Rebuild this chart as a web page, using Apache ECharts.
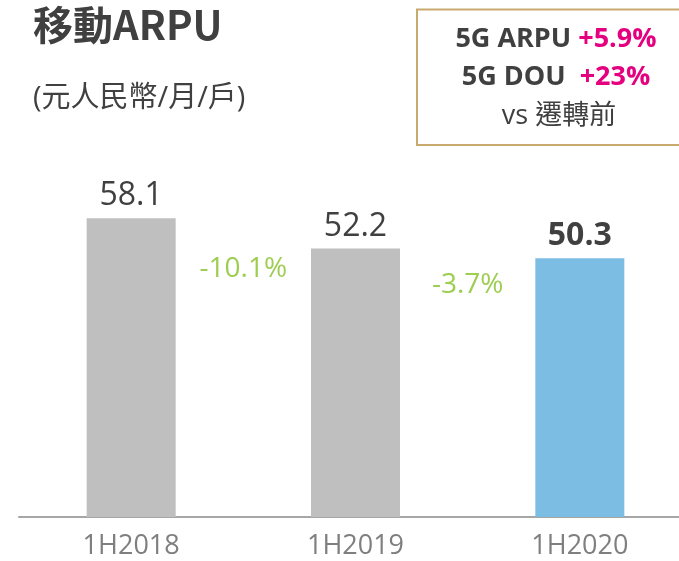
<!DOCTYPE html>
<html>
<head>
<meta charset="utf-8">
<script src="https://cdn.jsdelivr.net/npm/echarts@6/dist/echarts.min.js"></script>
<style>
html,body{margin:0;padding:0;background:#fff;overflow:hidden;width:679px;height:561px;}
#main{width:692px;height:561px;}
</style>
</head>
<body>
<div id="main"></div>
<script>
var categories = ['1H2018', '1H2019', '1H2020'];
var arpuValues = [58.1, 52.2, 50.3];
var changePositions = [0.5, 1.5];
var changeLevels = [48.2, 45.1];
var changeLabels = ['-10.1%', '-3.7%'];
var titleText = '移動ARPU';
var unitText = '(元人民幣/月/戶)';
var boxLines = [['5G ARPU', '+5.9%'], ['5G DOU ', '+23%'], ['vs 遷轉前', '']];

var FONT = '"Open Sans", "Noto Sans CJK TC", sans-serif';
var GRAY = '#bfbfbf', BLUE = '#7cbde3', DARK = '#404040', GREEN = '#84c126', PINK = '#e4007f';

var chart = echarts.init(document.getElementById('main'), null, {renderer: 'canvas'});

var barData = arpuValues.map(function (v, i) {
  var last = i === arpuValues.length - 1;
  return {
    value: v,
    itemStyle: {color: last ? BLUE : GRAY},
    label: {fontWeight: last ? 'bold' : 'normal'}
  };
});

var changeData = changePositions.map(function (x, i) {
  return {value: [x, changeLevels[i]], label: {formatter: changeLabels[i]}};
});

chart.setOption({
  animation: false,
  backgroundColor: '#fff',
  textStyle: {fontFamily: FONT},
  grid: {left: 19, right: 0, top: 157, bottom: 44, containLabel: false},
  xAxis: [{
    type: 'category',
    data: categories,
    axisLine: {lineStyle: {color: '#a6a6a6', width: 2}},
    axisTick: {show: false},
    axisLabel: {color: '#7f7f7f', fontSize: 27, margin: 16, fontFamily: FONT}
  }, {
    type: 'value',
    min: -0.5, max: 2.5,
    show: false
  }],
  yAxis: {
    type: 'value', min: 0, max: 70, show: false
  },
  series: [{
    type: 'bar',
    xAxisIndex: 0,
    data: barData,
    barWidth: 89,
    label: {
      show: true, position: 'top', distance: 6,
      color: DARK, fontSize: 32, fontFamily: FONT,
      formatter: function (p) { return p.value.toFixed(1); }
    }
  }, {
    type: 'scatter',
    xAxisIndex: 1,
    data: changeData,
    symbolSize: 1,
    itemStyle: {color: 'rgba(0,0,0,0)'},
    label: {show: true, position: 'inside', color: GREEN, fontSize: 28, fontFamily: FONT}
  }],
  graphic: [
    {type: 'text', left: 33, top: 5, style: {text: titleText, font: 'bold 40px "Noto Sans CJK TC", sans-serif', fill: DARK}},
    {type: 'text', left: 33, top: 84, style: {text: unitText, font: '29px "Open Sans", "Noto Sans CJK TC", sans-serif', fill: DARK}},
    {type: 'rect', shape: {x: 417, y: 9.5, width: 278, height: 135.5}, style: {fill: 'none', stroke: '#c8a96e', lineWidth: 2}},
    {type: 'text', x: 556, y: 39, style: {
      text: '{k|' + boxLines[0][0] + ' }{p|' + boxLines[0][1] + '}',
      align: 'center', verticalAlign: 'middle',
      rich: {k: {font: 'bold 27px ' + FONT, fill: DARK}, p: {font: 'bold 27px ' + FONT, fill: PINK}}
    }},
    {type: 'text', x: 556, y: 77, style: {
      text: '{k|' + boxLines[1][0] + ' }{p|' + boxLines[1][1] + '}',
      align: 'center', verticalAlign: 'middle',
      rich: {k: {font: 'bold 27px ' + FONT, fill: DARK}, p: {font: 'bold 27px ' + FONT, fill: PINK}}
    }},
    {type: 'text', x: 559, y: 116, style: {
      text: boxLines[2][0], align: 'center', verticalAlign: 'middle',
      font: '27px ' + FONT, fill: DARK
    }}
  ]
});
</script>
</body>
</html>
